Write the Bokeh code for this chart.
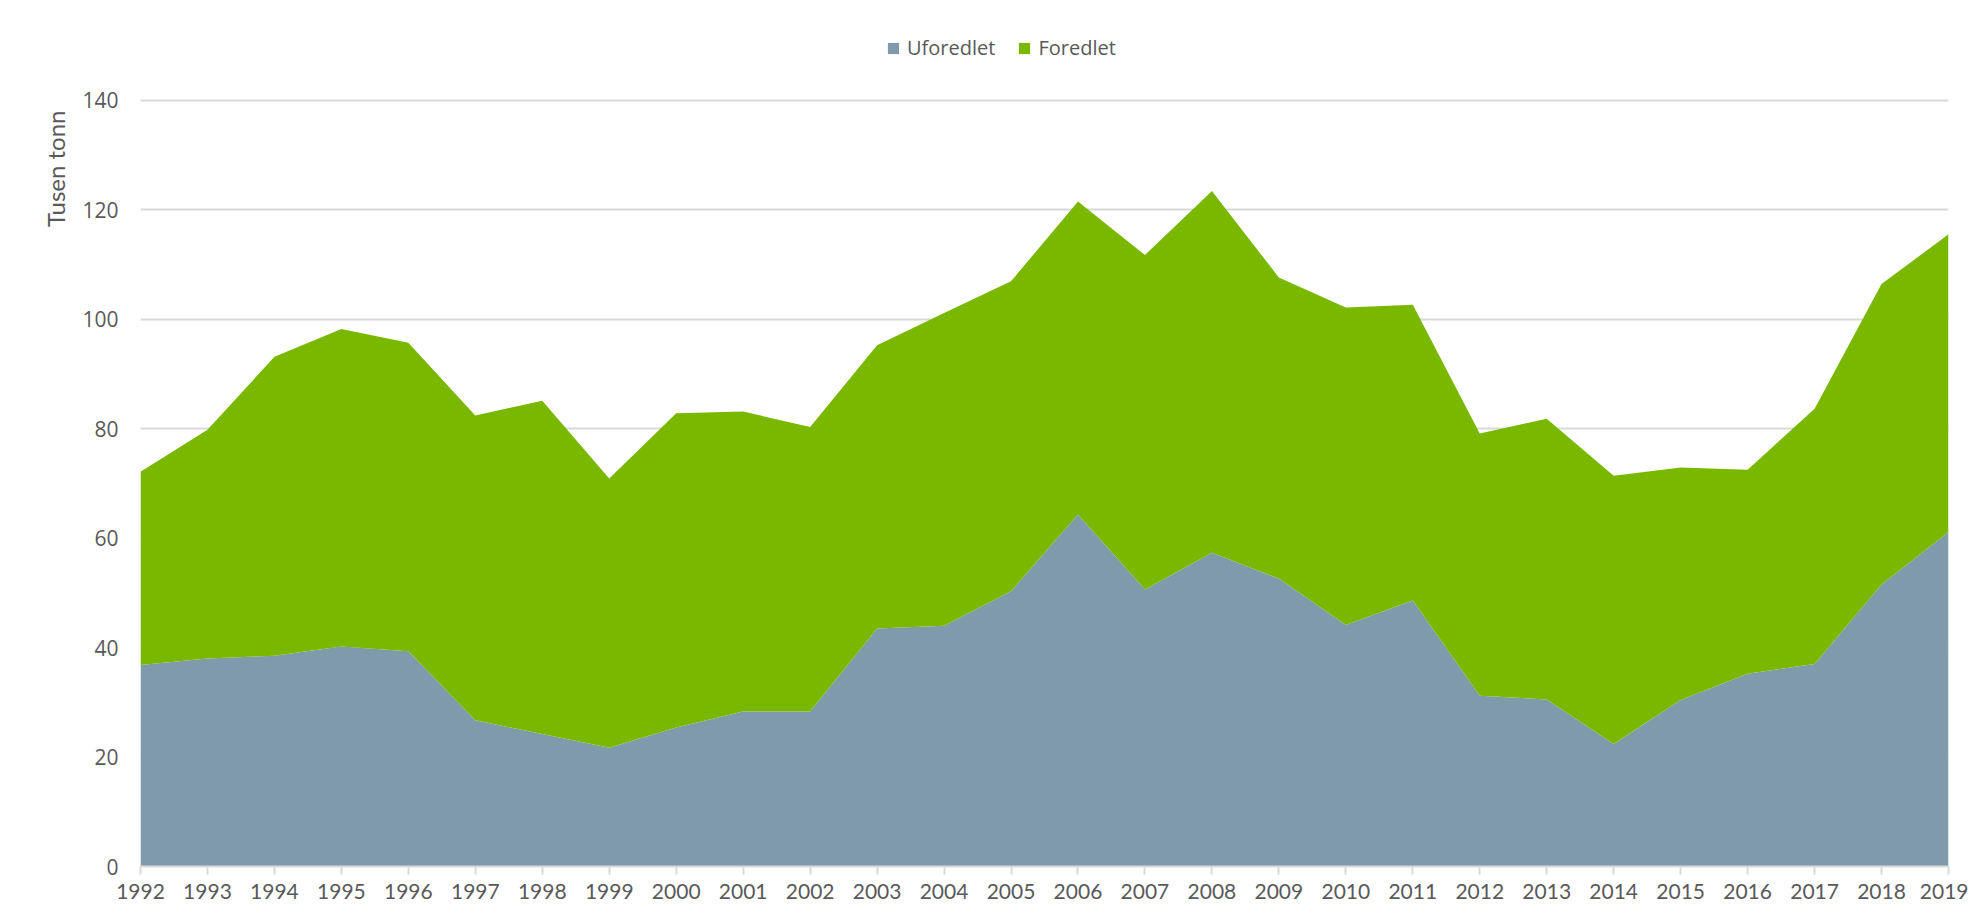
from bokeh.plotting import figure
from bokeh.models import (ColumnDataSource, Range1d, FixedTicker, Legend, LegendItem, Title)
from bokeh.embed import file_html
from bokeh.resources import INLINE

years = list(range(1992, 2020))
uforedlet = [36.8, 38.0, 38.5, 40.2, 39.3, 26.7, 24.2, 21.7, 25.4, 28.3,
             28.3, 43.5, 44.0, 50.3, 64.3, 50.6, 57.3, 52.6, 44.1, 48.6,
             31.2, 30.5, 22.4, 30.4, 35.2, 37.0, 51.5, 61.1]
totals = [72.1, 79.8, 93.1, 98.2, 95.7, 82.4, 85.1, 70.9, 82.8, 83.1,
          80.3, 95.2, 101.1, 106.9, 121.5, 111.7, 123.4, 107.6, 102.1, 102.6,
          79.1, 81.8, 71.4, 72.9, 72.5, 83.6, 106.4, 115.5]
foredlet = [round(t - u, 1) for t, u in zip(totals, uforedlet)]
series_names = ["Uforedlet", "Foredlet"]
series_colors = ["#7F9AAB", "#7AB800"]
y_ticks = [0, 20, 40, 60, 80, 100, 120, 140]
y_title = "Tusen tonn"

TEXT = "#595959"
GRID = "#D9D9D9"

source = ColumnDataSource(dict(year=years, Uforedlet=uforedlet, Foredlet=foredlet))

# frame reaches the top of the canvas so the legend (inside the frame) is not clipped;
# the y range is extended so that 140 sits where the reference's top gridline is
p = figure(width=1968, height=918, output_backend="svg", toolbar_location=None,
           x_range=Range1d(1992, 2019), y_range=Range1d(0, 158.2),
           min_border_left=140, min_border_right=20, min_border_top=0, min_border_bottom=52)
p.outline_line_color = None
p.background_fill_color = "white"
p.border_fill_color = "white"

renderers = p.varea_stack(series_names, x="year", color=series_colors, source=source)

# axes
p.xaxis.ticker = FixedTicker(ticks=years)
p.xaxis.axis_line_color = GRID
p.xaxis.axis_line_width = 2
p.xaxis.major_tick_line_color = GRID
p.xaxis.major_tick_line_width = 2
p.xaxis.major_tick_out = 8
p.xaxis.major_tick_in = 0
p.xaxis.minor_tick_line_color = None
p.xaxis.major_label_standoff = 9
p.xaxis.major_label_text_font = "Lato"
p.xaxis.major_label_text_font_size = "21px"
p.xaxis.major_label_text_color = TEXT

p.yaxis.ticker = FixedTicker(ticks=y_ticks)
p.yaxis.axis_line_color = None
p.yaxis.major_tick_line_color = None
p.yaxis.minor_tick_line_color = None
p.yaxis.major_tick_out = 0
p.yaxis.major_label_standoff = 22
p.yaxis.major_label_text_font = "Open Sans"
p.yaxis.major_label_text_font_size = "21px"
p.yaxis.major_label_text_color = TEXT

p.xgrid.grid_line_color = None
p.ygrid.ticker = FixedTicker(ticks=y_ticks)
p.ygrid.grid_line_color = GRID
p.ygrid.grid_line_width = 2

# y title placed near the top of the left side
title = Title(text=y_title, align="right", vertical_align="middle", offset=110, standoff=18,
              text_font="Lato", text_font_size="24px", text_font_style="normal", text_color=TEXT)
p.add_layout(title, "left")

legend = Legend(items=[LegendItem(label=n, renderers=[r]) for n, r in zip(series_names, renderers)],
                orientation="horizontal", location=(746, 805),
                glyph_width=14, glyph_height=14, label_standoff=7, spacing=22,
                padding=0, margin=0, border_line_color=None, background_fill_alpha=0,
                label_text_font="Open Sans", label_text_font_size="20px", label_text_color=TEXT)
p.add_layout(legend, "center")

open("out.html", "w").write(file_html(p, INLINE))
